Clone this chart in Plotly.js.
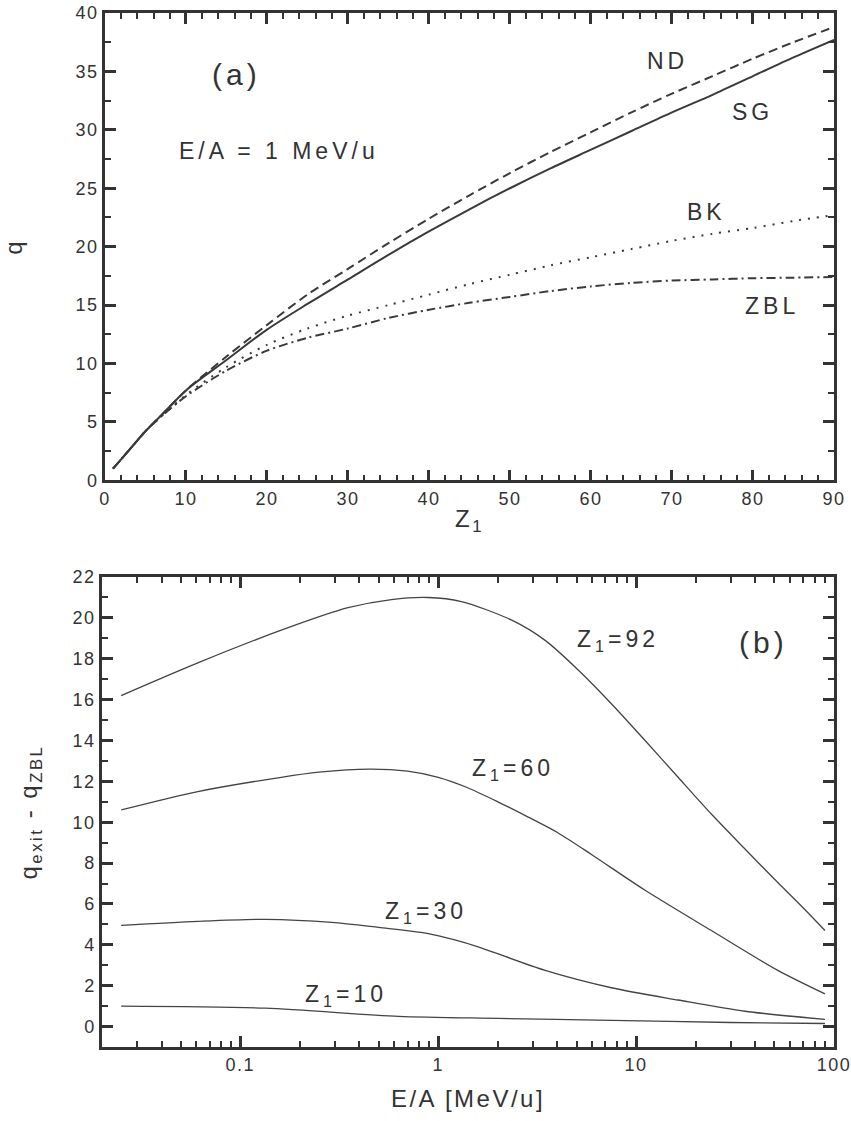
<!DOCTYPE html>
<html><head><meta charset="utf-8">
<script src="https://cdn.plot.ly/plotly-3.0.1.min.js"></script>
<style>
html,body{margin:0;padding:0;background:#fff}
#plot{width:851px;height:1121px}
#plot .annotation-text{letter-spacing:4px}
#plot .xtick text,#plot .ytick text,#plot .x2tick text,#plot .y2tick text{letter-spacing:1.5px}
#plot .xtitle,#plot .ytitle,#plot .x2title,#plot .y2title{letter-spacing:2.5px}
</style>
</head><body><div id="plot"></div>
<script>
// Panel (a): charge state q vs Z1 at E/A = 1 MeV/u
const z1 = [1, 2, 3, 5, 7, 10, 15, 20, 25, 30, 35, 40, 45, 50, 55, 60, 65, 70, 75, 80, 85, 90];
const qND  = [1.0, 1.8, 2.6, 4.2, 5.6, 7.7, 10.6, 13.3, 15.9, 18.1, 20.3, 22.4, 24.4, 26.3, 28.1, 29.8, 31.5, 33.1, 34.6, 36.1, 37.5, 38.8];
const qSG  = [1.0, 1.8, 2.6, 4.2, 5.6, 7.7, 10.3, 12.9, 15.1, 17.2, 19.3, 21.3, 23.2, 25.0, 26.7, 28.3, 29.9, 31.5, 33.0, 34.6, 36.2, 37.7];
const qBK  = [1.0, 1.8, 2.6, 4.2, 5.5, 7.3, 9.7, 11.6, 13.0, 14.1, 15.0, 15.9, 16.8, 17.6, 18.4, 19.1, 19.8, 20.5, 21.1, 21.6, 22.2, 22.7];
const qZBL = [1.0, 1.8, 2.6, 4.2, 5.5, 7.2, 9.4, 11.1, 12.2, 13.0, 13.9, 14.6, 15.2, 15.7, 16.2, 16.6, 16.9, 17.1, 17.2, 17.3, 17.35, 17.4];

// Panel (b): q_exit - q_ZBL vs E/A [MeV/u]
const eA92 = [0.025, 0.061, 0.161, 0.35, 0.58, 0.89, 1.31, 2.34, 3.47, 5.1, 7.5, 11.1, 16.3, 24, 35, 52, 70, 90];
const d92  = [16.2, 17.8, 19.4, 20.5, 20.9, 21.0, 20.8, 19.9, 18.9, 17.45, 15.8, 14.0, 12.2, 10.4, 8.75, 7.05, 5.8, 4.7];
const eA60 = [0.025, 0.061, 0.161, 0.25, 0.45, 0.7, 1.0, 1.4, 2.0, 2.85, 4.0, 6.0, 11.1, 24, 52, 90];
const d60  = [10.6, 11.5, 12.2, 12.45, 12.6, 12.5, 12.2, 11.7, 11.0, 10.25, 9.5, 8.4, 6.67, 4.7, 2.75, 1.6];
const eA30 = [0.025, 0.061, 0.134, 0.29, 0.5, 0.89, 1.2, 1.59, 3.47, 7.5, 16.3, 35.5, 90];
const d30  = [4.95, 5.15, 5.25, 5.1, 4.85, 4.55, 4.25, 3.9, 2.75, 1.9, 1.3, 0.75, 0.35];
const eA10 = [0.025, 0.134, 0.63, 2.0, 7.5, 30, 90];
const d10  = [1.0, 0.9, 0.5, 0.4, 0.3, 0.2, 0.15];

const xTickVals = [0.1, 1, 10, 100];
const xTickText = ['0.1', '1', '10', '100'];

const axisCol = '#333';
const tickCol = '#333';
const lineCol = '#3a3a3a';
const FAM = 'Liberation Sans, Arial, sans-serif';
const fnt = {family: FAM, size: 18, color: '#333'};
const titleFont = {family: FAM, size: 24, color: '#333'};
const annFont = {family: FAM, size: 23, color: '#333'};

const traces = [
  {x: z1, y: qND, xaxis: 'x', yaxis: 'y', mode: 'lines', name: 'ND', line: {color: lineCol, width: 2, dash: '9px,5px', shape: 'spline', smoothing: 0.8}},
  {x: z1, y: qSG, xaxis: 'x', yaxis: 'y', mode: 'lines', name: 'SG', line: {color: lineCol, width: 2, shape: 'spline', smoothing: 0.8}},
  {x: z1, y: qBK, xaxis: 'x', yaxis: 'y', mode: 'lines', name: 'BK', line: {color: lineCol, width: 2, dash: '2px,7px', shape: 'spline', smoothing: 0.8}},
  {x: z1, y: qZBL, xaxis: 'x', yaxis: 'y', mode: 'lines', name: 'ZBL', line: {color: lineCol, width: 2, dash: '9px,4px,2px,4px', shape: 'spline', smoothing: 0.8}},
  {x: eA92, y: d92, xaxis: 'x2', yaxis: 'y2', mode: 'lines', line: {color: '#444', width: 1.3, shape: 'spline', smoothing: 0.8}},
  {x: eA60, y: d60, xaxis: 'x2', yaxis: 'y2', mode: 'lines', line: {color: '#444', width: 1.3, shape: 'spline', smoothing: 0.8}},
  {x: eA30, y: d30, xaxis: 'x2', yaxis: 'y2', mode: 'lines', line: {color: '#444', width: 1.3, shape: 'spline', smoothing: 0.8}},
  {x: eA10, y: d10, xaxis: 'x2', yaxis: 'y2', mode: 'lines', line: {color: '#444', width: 1.3, shape: 'spline', smoothing: 0.8}}
];

const layout = {
  width: 851, height: 1121, showlegend: false,
  margin: {l: 102, r: 17, t: 13, b: 74},
  xaxis: {
    domain: [0.004, 1], anchor: 'y', range: [0, 90], dtick: 10,
    showline: true, linecolor: axisCol, linewidth: 2.5, showgrid: false, zeroline: false, tickfont: fnt,
    ticks: 'inside', ticklen: 11, tickwidth: 2.5, tickcolor: tickCol, mirror: 'allticks',
    minor: {ticks: 'inside', ticklen: 6, tickwidth: 2, tickcolor: tickCol, dtick: 2},
    title: {text: 'Z<sub>1</sub>', font: titleFont, standoff: 3}
  },
  yaxis: {
    domain: [0.548, 1], anchor: 'x', range: [0, 40], dtick: 5,
    showline: true, linecolor: axisCol, linewidth: 2.5, showgrid: false, zeroline: false, tickfont: fnt,
    ticks: 'inside', ticklen: 11, tickwidth: 2.5, tickcolor: tickCol, mirror: 'allticks',
    minor: {ticks: 'inside', ticklen: 6, tickwidth: 2, tickcolor: tickCol, dtick: 2.5},
    title: {text: 'q', font: titleFont, standoff: 50}
  },
  xaxis2: {
    domain: [0, 1], anchor: 'y2', type: 'log', range: [Math.log10(0.02), 2],
    showline: true, linecolor: axisCol, linewidth: 2.5, showgrid: false, zeroline: false, tickfont: fnt,
    ticks: 'inside', ticklen: 11, tickwidth: 2.5, tickcolor: tickCol, mirror: 'allticks',
    tickvals: xTickVals, ticktext: xTickText,
    minor: {ticks: 'inside', ticklen: 6, tickwidth: 2, tickcolor: tickCol, dtick: 'D1'},
    title: {text: 'E/A [MeV/u]', font: titleFont, standoff: 16}
  },
  yaxis2: {
    domain: [0, 0.4545], anchor: 'x2', range: [-1, 22], dtick: 2,
    showline: true, linecolor: axisCol, linewidth: 2.5, showgrid: false, zeroline: false, tickfont: fnt,
    ticks: 'inside', ticklen: 11, tickwidth: 2.5, tickcolor: tickCol, mirror: 'allticks',
    minor: {ticks: 'inside', ticklen: 6, tickwidth: 2, tickcolor: tickCol, dtick: 1},
    title: {text: 'q<sub>exit</sub> - q<sub>ZBL</sub>', font: titleFont, standoff: 32}
  },
  annotations: [
    {xref: 'x', yref: 'y', x: 16.3, y: 34.7, text: '(a)', showarrow: false, font: {family: FAM, size: 30, color: '#333'}},
    {xref: 'x', yref: 'y', x: 21.5, y: 28.2, text: 'E/A = 1 MeV/u', showarrow: false, font: annFont},
    {xref: 'x', yref: 'y', x: 69.4, y: 35.9, text: 'ND', showarrow: false, font: annFont},
    {xref: 'x', yref: 'y', x: 80, y: 31.5, text: 'SG', showarrow: false, font: annFont},
    {xref: 'x', yref: 'y', x: 74.3, y: 23.0, text: 'BK', showarrow: false, font: annFont},
    {xref: 'x', yref: 'y', x: 82.3, y: 14.9, text: 'ZBL', showarrow: false, font: annFont},
    {xref: 'x2', yref: 'y2', x: Math.log10(8.1), y: 18.9, text: 'Z<sub>1</sub>=92', showarrow: false, font: annFont},
    {xref: 'x2', yref: 'y2', x: Math.log10(43.8), y: 18.8, text: '(b)', showarrow: false, font: {family: FAM, size: 30, color: '#333'}},
    {xref: 'x2', yref: 'y2', x: Math.log10(2.4), y: 12.6, text: 'Z<sub>1</sub>=60', showarrow: false, font: annFont},
    {xref: 'x2', yref: 'y2', x: Math.log10(0.87), y: 5.6, text: 'Z<sub>1</sub>=30', showarrow: false, font: annFont},
    {xref: 'x2', yref: 'y2', x: Math.log10(0.343), y: 1.5, text: 'Z<sub>1</sub>=10', showarrow: false, font: annFont}
  ]
};

Plotly.newPlot('plot', traces, layout, {displayModeBar: false});
</script>
</body></html>
